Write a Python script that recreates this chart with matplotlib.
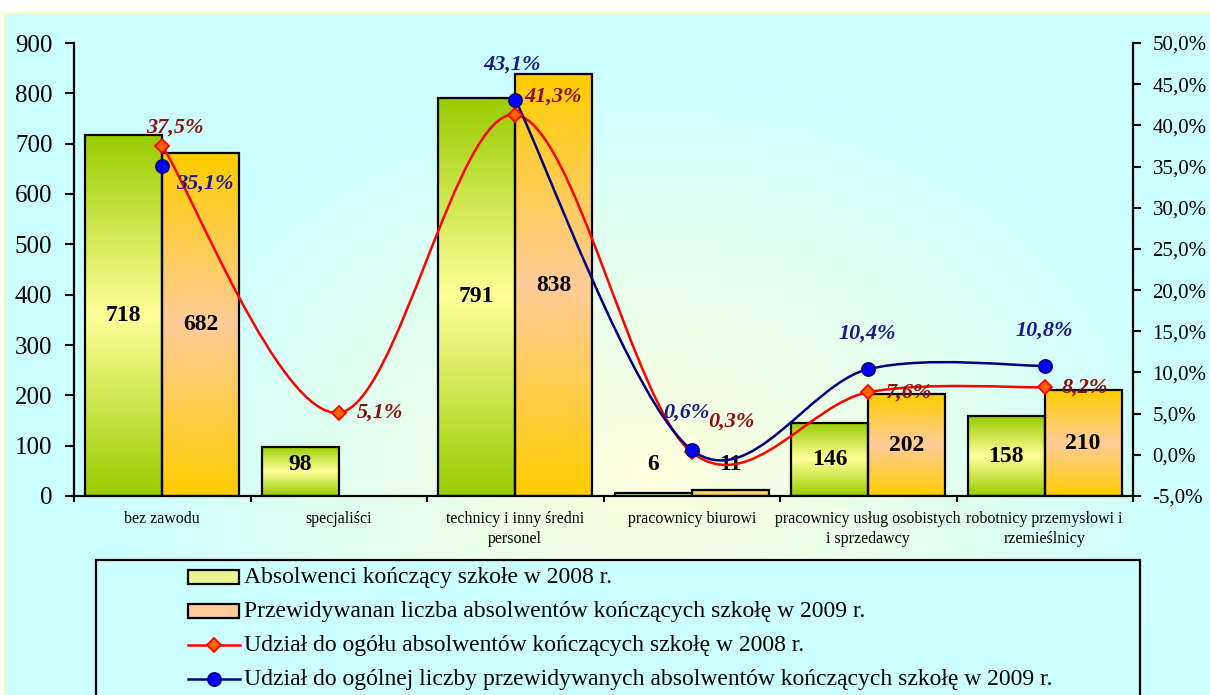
import numpy as np
import matplotlib.pyplot as plt
from matplotlib.path import Path
from matplotlib.patches import PathPatch, Rectangle
from matplotlib.colors import LinearSegmentedColormap, to_rgb

# ---- data ----
categories = ["bez zawodu", "specjaliści", "technicy i inny średni\npersonel",
              "pracownicy biurowi", "pracownicy usług osobistych\ni sprzedawcy",
              "robotnicy przemysłowi i\nrzemieślnicy"]
grads_2008 = [718, 98, 791, 6, 146, 158]
grads_2009 = [682, np.nan, 838, 11, 202, 210]
share_2008 = [37.5, 5.1, 41.3, 0.3, 7.6, 8.2]
share_2009 = [35.1, np.nan, 43.1, 0.6, 10.4, 10.8]
legend_labels = ["Absolwenci kończący szkołe w 2008 r.",
                 "Przewidywanan liczba absolwentów kończących szkołę w 2009 r.",
                 "Udział do ogółu absolwentów kończących szkołę w 2008 r.",
                 "Udział do ogólnej liczby przewidywanych absolwentów kończących szkołę w 2009 r."]

# label offsets (pixels) for the percentage labels
off_2008 = [(13, 18), (41, 0), (38, 18), (40, 31), (40, 0), (40, 0)]
off_2009 = [(43, -18), None, (-3, 35), (-5, 37), (-1, 36), (-1, 35)]

plt.rcParams['font.family'] = ['Liberation Serif', 'DejaVu Serif']

W, H = 1210, 695
fig = plt.figure(figsize=(W / 100, H / 100), dpi=100)
fig.patch.set_facecolor('white')

# ---- background (radial gradient, pixel coordinates) ----
bg = fig.add_axes([0, 0, 1, 1], zorder=0)
bg.set_xlim(0, W)
bg.set_ylim(H, 0)
bg.axis('off')
yy, xx = np.mgrid[0:H, 0:W]
r = np.clip(np.sqrt(((xx - 650) / 540.0) ** 2 + ((yy - 470) / 400.0) ** 2), 0, 1)
c_mid = np.array(to_rgb('#FFFFDD'))
c_out = np.array(to_rgb('#CCFFFF'))
img = c_mid + (c_out - c_mid) * r[..., None]
img[:12, :] = 1.0
img[:, :3] = 1.0
bg.imshow(img, extent=[0, W, H, 0], aspect='auto', interpolation='bilinear')
bg.plot([3.5, W], [12.5, 12.5], color='#FFFFBB', lw=1.5)
bg.plot([3.5, 3.5], [12.5, H], color='#FFFFBB', lw=1.5)

# legend box
bg.add_patch(Rectangle((96, 560), 1140 - 96, 200, facecolor='#CCFFFF',
                       edgecolor='black', lw=1.6, zorder=3))

# ---- main axes ----
ax = fig.add_axes([74 / W, 1 - 496 / H, (1133 - 74) / W, (496 - 43) / H], zorder=1)
ax.patch.set_alpha(0)
x = np.arange(len(categories))
bw = 0.435

green_cm = LinearSegmentedColormap.from_list('g', ['#99CC00', '#FFFF99', '#99CC00'])
orange_cm = LinearSegmentedColormap.from_list('o', ['#FFCC00', '#FFCC99', '#FFCC00'])
grad = np.linspace(0, 1, 256).reshape(-1, 1)


def gradient_bar(x0, x1, v, cmap):
    ax.imshow(grad, cmap=cmap, extent=[x0, x1, 0, v], aspect='auto',
              origin='lower', zorder=2, interpolation='bilinear')
    ax.add_patch(Rectangle((x0, 0), x1 - x0, v, fill=False,
                           edgecolor='black', lw=1.6, zorder=3))


for i in range(len(categories)):
    for v, x0, cm in [(grads_2008[i], x[i] - bw, green_cm),
                      (grads_2009[i], x[i], orange_cm)]:
        if np.isnan(v):
            continue
        gradient_bar(x0, x0 + bw, v, cm)
        ax.text(x0 + bw / 2, max(v / 2, 62), f"{int(v)}", ha='center', va='center',
                fontsize=17, fontweight='bold', zorder=4)

ax.set_xlim(-0.5, len(categories) - 0.5)
ax.set_ylim(0, 900)
ax.set_yticks(np.arange(0, 901, 100))
ax.set_xticks(np.arange(-0.5, len(categories), 1.0))
ax.set_xticklabels([])
ax.set_xticks(x, categories, minor=True)
ax.tick_params(axis='x', which='major', direction='out', length=4, width=1.5)
ax.tick_params(axis='x', which='minor', length=0, pad=11, labelsize=11.5)
ax.tick_params(axis='y', direction='out', length=6.5, width=1.5, pad=9, labelsize=18)
for lab in ax.get_xticklabels(minor=True):
    lab.set_linespacing(1.3)
ax.spines['top'].set_visible(False)
ax.spines['right'].set_visible(False)
for s in ['left', 'bottom']:
    ax.spines[s].set_linewidth(1.6)

# ---- right axis: smoothed share lines ----
ax2 = ax.twinx()
ax2.patch.set_visible(False)
ax2.set_ylim(-5, 50)
ax2.set_yticks(np.arange(-5, 51, 5))
ax2.set_yticklabels([f"{t:.1f}%".replace('.', ',') for t in np.arange(-5, 51, 5)])
ax2.tick_params(axis='y', direction='out', length=6, width=1.5, pad=8, labelsize=15)
for s in ['top', 'left', 'bottom']:
    ax2.spines[s].set_visible(False)
ax2.spines['right'].set_linewidth(1.6)


def smooth_runs(xs, ys):
    xs = np.asarray(xs, float)
    ys = np.asarray(ys, float)
    ok = ~np.isnan(ys)
    runs, cur = [], []
    for i in range(len(ys)):
        if ok[i]:
            cur.append(i)
        else:
            if cur:
                runs.append(cur)
            cur = []
    if cur:
        runs.append(cur)
    paths = []
    for run in runs:
        if len(run) < 2:
            continue
        P = np.column_stack([xs[run], ys[run]])
        verts, codes = [P[0]], [Path.MOVETO]
        n = len(P)
        for i in range(n - 1):
            p0 = P[i - 1] if i > 0 else P[i]
            p3 = P[i + 2] if i + 2 < n else P[i + 1]
            c1 = P[i] + (P[i + 1] - p0) / 6
            c2 = P[i + 1] - (p3 - P[i]) / 6
            verts += [c1, c2, P[i + 1]]
            codes += [Path.CURVE4] * 3
        paths.append(Path(verts, codes))
    return paths


for p in smooth_runs(x, share_2008):
    ax2.add_patch(PathPatch(p, fill=False, edgecolor='#FF0000', lw=1.8, zorder=5))
for p in smooth_runs(x, share_2009):
    ax2.add_patch(PathPatch(p, fill=False, edgecolor='#000080', lw=1.8, zorder=5))

ax2.plot(x, share_2008, ls='none', marker='D', ms=7.5, mfc='#FF6600', mec='#FF0000',
         mew=1.3, zorder=6)
ax2.plot(x, share_2009, ls='none', marker='o', ms=9.5, mfc='#0000FF', mec='#000080',
         mew=1.2, zorder=6)

for xi, v, off in zip(x, share_2008, off_2008):
    ax2.annotate(f"{v:.1f}%".replace('.', ','), (xi, v), xytext=off,
                 textcoords='offset pixels', ha='center', va='center',
                 fontsize=16, fontweight='bold', fontstyle='italic', color='#8B1010',
                 zorder=7)
for xi, v, off in zip(x, share_2009, off_2009):
    if off is None or np.isnan(v):
        continue
    ax2.annotate(f"{v:.1f}%".replace('.', ','), (xi, v), xytext=off,
                 textcoords='offset pixels', ha='center', va='center',
                 fontsize=16, fontweight='bold', fontstyle='italic', color='#1A1A8C',
                 zorder=7)

# ---- legend (drawn in pixel coordinates) ----
rows = [577, 611, 645, 679]
bg.add_patch(Rectangle((188, rows[0] - 7), 51, 14, facecolor='#E8F590',
                       edgecolor='black', lw=1.6, zorder=4))
bg.add_patch(Rectangle((188, rows[1] - 7), 51, 14, facecolor='#FFCC99',
                       edgecolor='black', lw=1.6, zorder=4))
bg.plot([188, 240], [rows[2], rows[2]], color='#FF0000', lw=1.8, zorder=4)
bg.plot([214], [rows[2]], marker='D', ms=7.5, mfc='#FF6600', mec='#FF0000', mew=1.3, zorder=5)
bg.plot([188, 240], [rows[3], rows[3]], color='#000080', lw=1.8, zorder=4)
bg.plot([214], [rows[3]], marker='o', ms=9.5, mfc='#0000FF', mec='#000080', mew=1.2, zorder=5)
for yv, lab in zip(rows, legend_labels):
    bg.text(244, yv, lab, ha='left', va='center', fontsize=17, zorder=5)

fig.savefig('out.png', dpi=100)
